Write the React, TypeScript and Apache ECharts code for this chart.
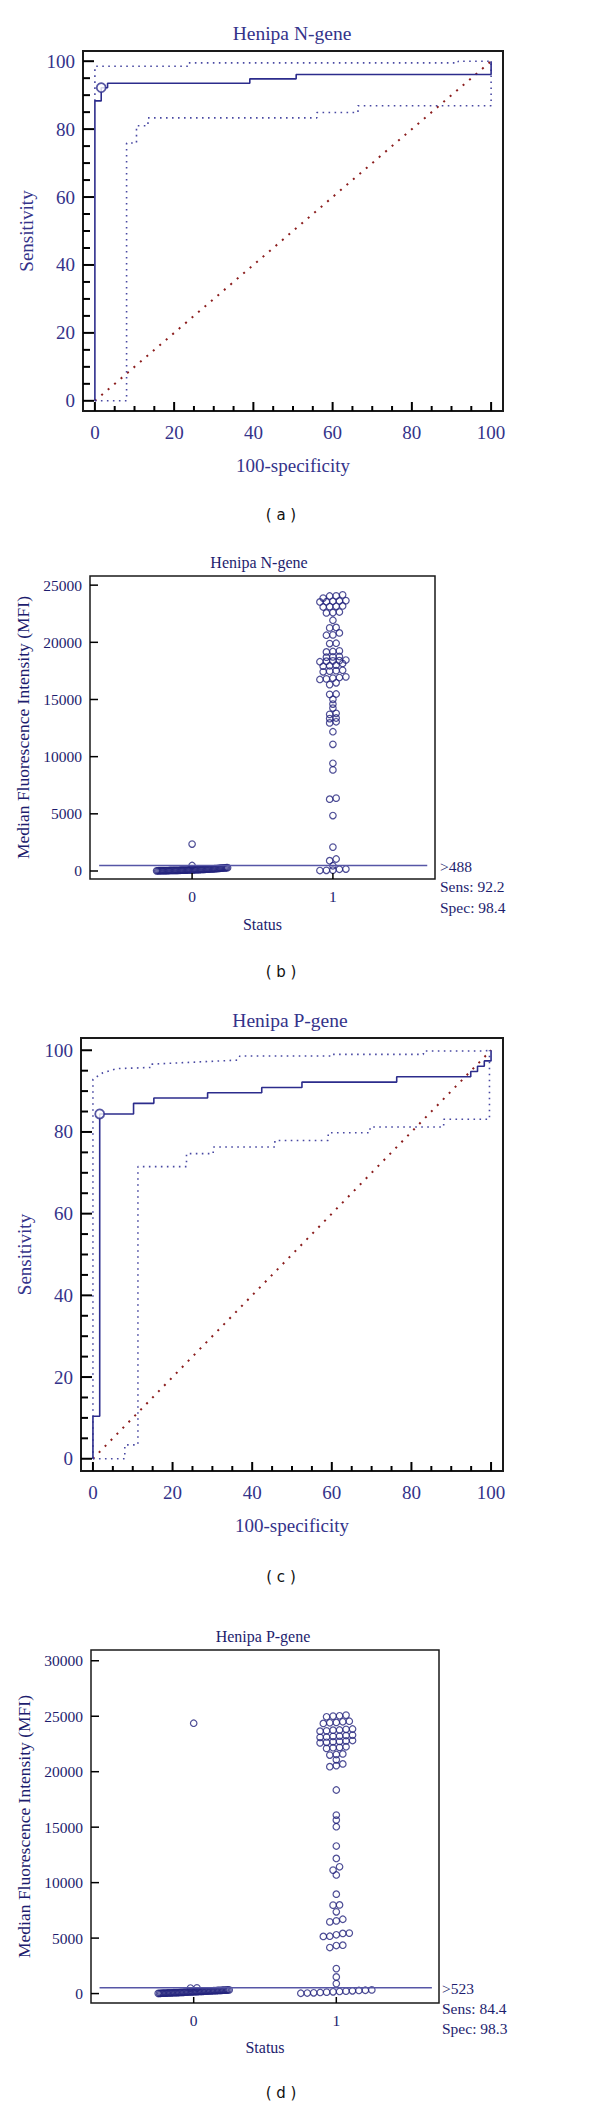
import React, { useEffect, useRef } from "react";
import * as echarts from "echarts";

const SERIF = '"Liberation Serif", "Times New Roman", serif';
const SANS = '"DejaVu Sans", Verdana, sans-serif';

// ---------- tick values ----------
const rocMajorTicks = [0, 20, 40, 60, 80, 100];
const rocMinorTicks = [5, 10, 15, 25, 30, 35, 45, 50, 55, 65, 70, 75, 85, 90, 95];
const nGeneTicks = [0, 5000, 10000, 15000, 20000, 25000];
const pGeneTicks = [0, 5000, 10000, 15000, 20000, 25000, 30000];
const statusCategories = [0, 1];

// ---------- (a) ROC, Henipa N-gene ----------
const rocA_fpr = [0, 0, 1.6, 1.6, 3.2, 3.2, 39.1, 39.1, 50.8, 50.8, 100, 100];
const rocA_sens = [0, 88.3, 88.3, 92.2, 92.2, 93.5, 93.5, 94.8, 94.8, 96.1, 96.1, 100];
const ciUpA_fpr = [0, 0, 23.5, 23.5, 91.7, 91.7, 100];
const ciUpA_sens = [88.3, 98.5, 98.5, 99.5, 99.5, 100, 100];
const ciLoA_fpr = [0, 8.0, 8.0, 10.5, 10.5, 13.4, 13.4, 56.0, 56.0, 66.4, 66.4, 100, 100];
const ciLoA_sens = [0, 0, 75.9, 75.9, 81.0, 81.0, 83.3, 83.3, 84.9, 84.9, 86.9, 86.9, 100];
const critA = [1.6, 92.2];

// ---------- (c) ROC, Henipa P-gene ----------
const rocC_fpr = [0, 0, 1.7, 1.7, 10.2, 10.2, 15.3, 15.3, 28.8, 28.8, 42.4, 42.4, 52.5, 52.5, 76.3, 76.3, 94.9, 94.9, 96.6, 96.6, 98.3, 98.3, 100, 100];
const rocC_sens = [0, 10.4, 10.4, 84.4, 84.4, 87.0, 87.0, 88.3, 88.3, 89.6, 89.6, 90.9, 90.9, 92.2, 92.2, 93.5, 93.5, 94.8, 94.8, 96.1, 96.1, 97.4, 97.4, 100];
const ciUpC_fpr = [0, 0, 2.5, 5.9, 14.8, 14.8, 25.7, 36.5, 36.9, 60.3, 60.3, 83.0, 83.0, 98.0, 100];
const ciUpC_sens = [0, 92.9, 94.5, 95.5, 95.8, 96.6, 97.1, 97.6, 98.6, 98.6, 99.0, 99.0, 99.8, 99.8, 100];
const ciLoC_fpr = [0, 8.0, 8.0, 11.3, 11.3, 23.5, 23.5, 30.2, 30.2, 45.7, 45.7, 59.1, 59.1, 69.6, 69.6, 88.1, 88.1, 99.6, 99.6];
const ciLoC_sens = [0, 0, 3.4, 3.4, 71.5, 71.5, 74.7, 74.7, 76.3, 76.3, 77.9, 77.9, 79.8, 79.8, 81.2, 81.2, 83.1, 83.1, 100];
const critC = [1.7, 84.4];

// ---------- (b) dot plot, Henipa N-gene (MFI) ----------
const nGeneStatus0 = [
  15, 18, 21, 22, 26, 28, 31, 33, 35, 39, 40, 43, 46, 47, 51, 53, 55, 59, 61, 62,
  66, 69, 71, 74, 79, 81, 84, 89, 91, 96, 101, 104, 109, 112, 117, 121, 126, 129, 136, 141,
  144, 151, 155, 161, 166, 173, 178, 186, 191, 201, 207, 217, 224, 235, 242, 253, 259, 269, 275, 284,
  290, 480, 2356,
];
const nGeneStatus1 = [
  40, 60, 80, 150, 170, 460, 900, 1050, 2090, 4850, 6280, 6370, 8840, 9420, 11080, 12180,
  12950, 13050, 13330, 13380, 13700, 13790, 14250, 14600, 15010, 15450, 15480, 16300, 16460,
  16750, 16800, 16870, 16920, 16980, 17420, 17480, 17520, 17560, 17910, 17950, 18000, 18150,
  18300, 18350, 18380, 18400, 18450, 18700, 18730, 18760, 19160, 19200, 19250, 19890, 19920,
  20620, 20650, 20820, 21260, 21300, 21930, 22570, 22600, 22650, 23090, 23120, 23150, 23180,
  23530, 23550, 23590, 23620, 23650, 23870, 24050, 24060, 24150,
];
const nGeneCutoff = 488;
const nGeneStats = [">488", "Sens: 92.2", "Spec: 98.4"];

// ---------- (d) dot plot, Henipa P-gene (MFI) ----------
const pGeneStatus0 = [
  20, 23, 27, 33, 36, 41, 44, 51, 54, 61, 64, 71, 76, 79, 86, 91, 95, 103, 107, 115,
  119, 127, 131, 139, 143, 151, 157, 161, 169, 173, 181, 185, 193, 197, 205, 209, 217, 221, 229, 233,
  241, 247, 251, 259, 263, 271, 277, 281, 289, 293, 301, 305, 313, 317, 324, 330,
  500, 515, 24370,
];
const pGeneStatus1 = [
  30, 50, 70, 100, 130, 160, 190, 220, 250, 280, 300, 330, 900, 1500, 2250,
  4150, 4330, 4360, 5150, 5170, 5300, 5420, 5450, 6460, 6550, 6700, 7370, 7970, 7990, 8960,
  10690, 11130, 11430, 12180, 13300, 15040, 15640, 16090, 18350, 20450, 20550, 20700, 21070,
  21500, 21550, 21600, 22100, 22160, 22190, 22250, 22600, 22650, 22690, 22730, 22770, 22810,
  23100, 23130, 23190, 23210, 23260, 23300, 23650, 23680, 23740, 23760, 23820, 23850,
  24350, 24410, 24440, 24500, 24550, 24950, 25010, 25040, 25100,
];
const pGeneCutoff = 523;
const pGeneStats = [">523", "Sens: 84.4", "Spec: 98.3"];

// ---------- layout ----------
const GA = { left: 83, top: 51, width: 420, height: 360 };
const GB = { left: 90, top: 576, width: 345, height: 303 };
const GC = { left: 81, top: 1038, width: 422, height: 433 };
const GD = { left: 91, top: 1650, width: 348, height: 353 };
const ROC_R = [-3, 103];
const B_X = [-0.725, 1.725];
const B_Y = [-700, 25800];
const D_X = [-0.72, 1.72];
const D_Y = [-850, 30970];

const C_TEXT_ROC = "#34338a";
const C_TEXT_DOT = "#1d1d6e";
const C_ROC = "#2c2c8c";
const C_CI = "#4848a2";
const C_DIAG = "#8b1d1d";
const C_DOT = "#22227c";
const C_BOX = "#1a1a1a";
const C_TICK = "#000000";

const plain = (v: number) => String(v);
const pairs = (xs: number[], ys: number[]) => xs.map((x, i) => [x, ys[i]]);

// MedCalc-style dot layout: values grouped in rows (by pixel height), each row centred
function dotLayout(values: number[], cat: number, grid: any, xr: number[], yr: number[]) {
  const pxX = grid.width / (xr[1] - xr[0]);
  const pxY = grid.height / (yr[1] - yr[0]);
  const d = 6.5;
  const binPx = 3.6;
  const maxW = 71;
  const sorted = [...values].sort((a, b) => a - b);
  const rows: number[][] = [];
  let start = -Infinity;
  for (const v of sorted) {
    if ((v - start) * pxY > binPx || rows.length === 0) {
      rows.push([]);
      start = v;
    }
    rows[rows.length - 1].push(v);
  }
  const pts: number[][] = [];
  for (const row of rows) {
    const n = row.length;
    const s = n > 1 ? Math.min(d, maxW / (n - 1)) : 0;
    row.forEach((v, k) => pts.push([cat + ((k - (n - 1) / 2) * s) / pxX, v]));
  }
  return pts;
}

// inward tick marks, each a short line series drawn through the axes' scales
function tickLines(idx: number, grid: any, xr: number[], yr: number[], xTicks: number[], yTicks: number[], xLen: number, yLen: number, width: number) {
  const dy = (xLen * (yr[1] - yr[0])) / grid.height;
  const dx = (yLen * (xr[1] - xr[0])) / grid.width;
  const base = {
    type: "line", xAxisIndex: idx, yAxisIndex: idx, showSymbol: false, symbol: "none", silent: true, z: 5, clip: false,
    lineStyle: { color: C_TICK, width, cap: "butt" },
  };
  return [
    ...xTicks.map((v) => ({ ...base, data: [[v, yr[0]], [v, yr[0] + dy]] })),
    ...yTicks.map((v) => ({ ...base, data: [[xr[0], v], [xr[0] + dx, v]] })),
  ];
}

const baseAxis = (gridIndex: number, r: number[], position: string) => ({
  type: "value", gridIndex, min: r[0], max: r[1], position,
  axisLine: { show: false, onZero: false }, splitLine: { show: false }, axisTick: { show: false },
});

function rocX(gridIndex: number) {
  return {
    ...baseAxis(gridIndex, ROC_R, "bottom"),
    axisLabel: { customValues: rocMajorTicks, formatter: plain, margin: 12, color: C_TEXT_ROC, fontFamily: SERIF, fontSize: 19 },
    name: "100-specificity", nameLocation: "middle", nameGap: 45,
    nameTextStyle: { color: C_TEXT_ROC, fontFamily: SERIF, fontSize: 19 },
  };
}
function rocY(gridIndex: number) {
  return {
    ...baseAxis(gridIndex, ROC_R, "left"),
    axisLabel: { customValues: rocMajorTicks, formatter: plain, margin: 8, color: C_TEXT_ROC, fontFamily: SERIF, fontSize: 19 },
    name: "Sensitivity", nameLocation: "middle", nameGap: 45,
    nameTextStyle: { color: C_TEXT_ROC, fontFamily: SERIF, fontSize: 19 },
  };
}
function dotX(gridIndex: number, xr: number[], nameGap: number) {
  return {
    ...baseAxis(gridIndex, xr, "bottom"),
    axisLabel: { customValues: statusCategories, formatter: plain, margin: 9, color: C_TEXT_DOT, fontFamily: SERIF, fontSize: 15.5 },
    name: "Status", nameLocation: "middle", nameGap,
    nameTextStyle: { color: C_TEXT_DOT, fontFamily: SERIF, fontSize: 16 },
  };
}
function dotY(gridIndex: number, yr: number[], ticks: number[], nameGap: number) {
  return {
    ...baseAxis(gridIndex, yr, "left"),
    axisLabel: { customValues: ticks, formatter: plain, margin: 8, color: C_TEXT_DOT, fontFamily: SERIF, fontSize: 15.5 },
    name: "Median Fluorescence Intensity (MFI)", nameLocation: "middle", nameGap,
    nameTextStyle: { color: C_TEXT_DOT, fontFamily: SERIF, fontSize: 17.5 },
  };
}

function rocSeries(idx: number, grid: any, fpr: number[], sens: number[], up: number[][], lo: number[][], crit: number[]) {
  const base = { type: "line", xAxisIndex: idx, yAxisIndex: idx, showSymbol: false, symbol: "none", silent: true };
  return [
    { ...base, data: [[0, 0], [100, 100]], lineStyle: { color: C_DIAG, width: 2, type: [2, 6.5] } },
    { ...base, data: up, lineStyle: { color: C_CI, width: 1.6, type: [1.6, 4.4] } },
    { ...base, data: lo, lineStyle: { color: C_CI, width: 1.6, type: [1.6, 4.4] } },
    { ...base, data: pairs(fpr, sens), lineStyle: { color: C_ROC, width: 1.6 } },
    {
      type: "scatter", xAxisIndex: idx, yAxisIndex: idx, data: [crit], symbol: "circle", symbolSize: 9,
      itemStyle: { color: "#fff", borderColor: C_ROC, borderWidth: 1.8 }, silent: true, z: 6,
    },
    ...tickLines(idx, grid, ROC_R, ROC_R, rocMajorTicks, rocMajorTicks, 9, 11, 2),
    ...tickLines(idx, grid, ROC_R, ROC_R, rocMinorTicks, rocMinorTicks, 5, 7, 2),
  ];
}

function dotSeries(idx: number, grid: any, xr: number[], yr: number[], yTicks: number[], g0: number[], g1: number[], cutoff: number) {
  const dotStyle = { color: "rgba(0,0,0,0)", borderColor: C_DOT, borderWidth: 1.2 };
  return [
    {
      type: "line", xAxisIndex: idx, yAxisIndex: idx, showSymbol: false, symbol: "none", silent: true,
      data: [[-0.66, cutoff], [1.67, cutoff]], lineStyle: { color: "#5656a6", width: 1.5 },
    },
    {
      type: "scatter", xAxisIndex: idx, yAxisIndex: idx, symbol: "circle", symbolSize: 6.5, silent: true,
      data: dotLayout(g0, statusCategories[0], grid, xr, yr), itemStyle: dotStyle,
    },
    {
      type: "scatter", xAxisIndex: idx, yAxisIndex: idx, symbol: "circle", symbolSize: 6.5, silent: true,
      data: dotLayout(g1, statusCategories[1], grid, xr, yr), itemStyle: dotStyle,
    },
    ...tickLines(idx, grid, xr, yr, statusCategories, yTicks, 6, 8, 1.5),
  ];
}

function txt(text: string, x: number, y: number, size: number, color: string, family: string, align = "center") {
  return {
    type: "text", x, y, silent: true,
    style: { text, fill: color, font: `${size}px ${family}`, textAlign: align, textVerticalAlign: "middle" },
  };
}

export default function App() {
  const ref = useRef<HTMLDivElement>(null);
  useEffect(() => {
    if (!ref.current) return;
    const chart = echarts.init(ref.current, null, { renderer: "svg" });
    const gridBox = (g: any, bw: number) => ({
      ...g, show: true, borderColor: C_BOX, borderWidth: bw, backgroundColor: "transparent", containLabel: false,
    });
    const option: any = {
      animation: false,
      grid: [gridBox(GA, 2), gridBox(GB, 1.5), gridBox(GC, 2), gridBox(GD, 1.5)],
      xAxis: [rocX(0), dotX(1, B_X, 37), rocX(2), dotX(3, D_X, 36)],
      yAxis: [rocY(0), dotY(1, B_Y, nGeneTicks, 54), rocY(2), dotY(3, D_Y, pGeneTicks, 55)],
      series: [
        ...rocSeries(0, GA, rocA_fpr, rocA_sens, pairs(ciUpA_fpr, ciUpA_sens), pairs(ciLoA_fpr, ciLoA_sens), critA),
        ...dotSeries(1, GB, B_X, B_Y, nGeneTicks, nGeneStatus0, nGeneStatus1, nGeneCutoff),
        ...rocSeries(2, GC, rocC_fpr, rocC_sens, pairs(ciUpC_fpr, ciUpC_sens), pairs(ciLoC_fpr, ciLoC_sens), critC),
        ...dotSeries(3, GD, D_X, D_Y, pGeneTicks, pGeneStatus0, pGeneStatus1, pGeneCutoff),
      ],
      graphic: [
        txt("Henipa N-gene", 292, 33, 19.5, C_TEXT_ROC, SERIF),
        txt("( a )", 281, 515, 15, "#111", SANS),
        txt("Henipa N-gene", 259, 562, 16, C_TEXT_DOT, SERIF),
        txt(nGeneStats[0], 440, 866, 15.5, C_TEXT_DOT, SERIF, "left"),
        txt(nGeneStats[1], 440, 886.5, 15.5, C_TEXT_DOT, SERIF, "left"),
        txt(nGeneStats[2], 440, 907, 15.5, C_TEXT_DOT, SERIF, "left"),
        txt("( b )", 281, 972, 15, "#111", SANS),
        txt("Henipa P-gene", 290, 1020, 19.5, C_TEXT_ROC, SERIF),
        txt("( c )", 281, 1577, 15, "#111", SANS),
        txt("Henipa P-gene", 263, 1636, 16, C_TEXT_DOT, SERIF),
        txt(pGeneStats[0], 442, 1988, 15.5, C_TEXT_DOT, SERIF, "left"),
        txt(pGeneStats[1], 442, 2008, 15.5, C_TEXT_DOT, SERIF, "left"),
        txt(pGeneStats[2], 442, 2028, 15.5, C_TEXT_DOT, SERIF, "left"),
        txt("( d )", 281, 2093, 15, "#111", SANS),
      ],
    };
    chart.setOption(option);
    return () => chart.dispose();
  }, []);
  return <div ref={ref} style={{ position: "absolute", left: 0, top: 0, width: 600, height: 2110, background: "#fff" }} />;
}
